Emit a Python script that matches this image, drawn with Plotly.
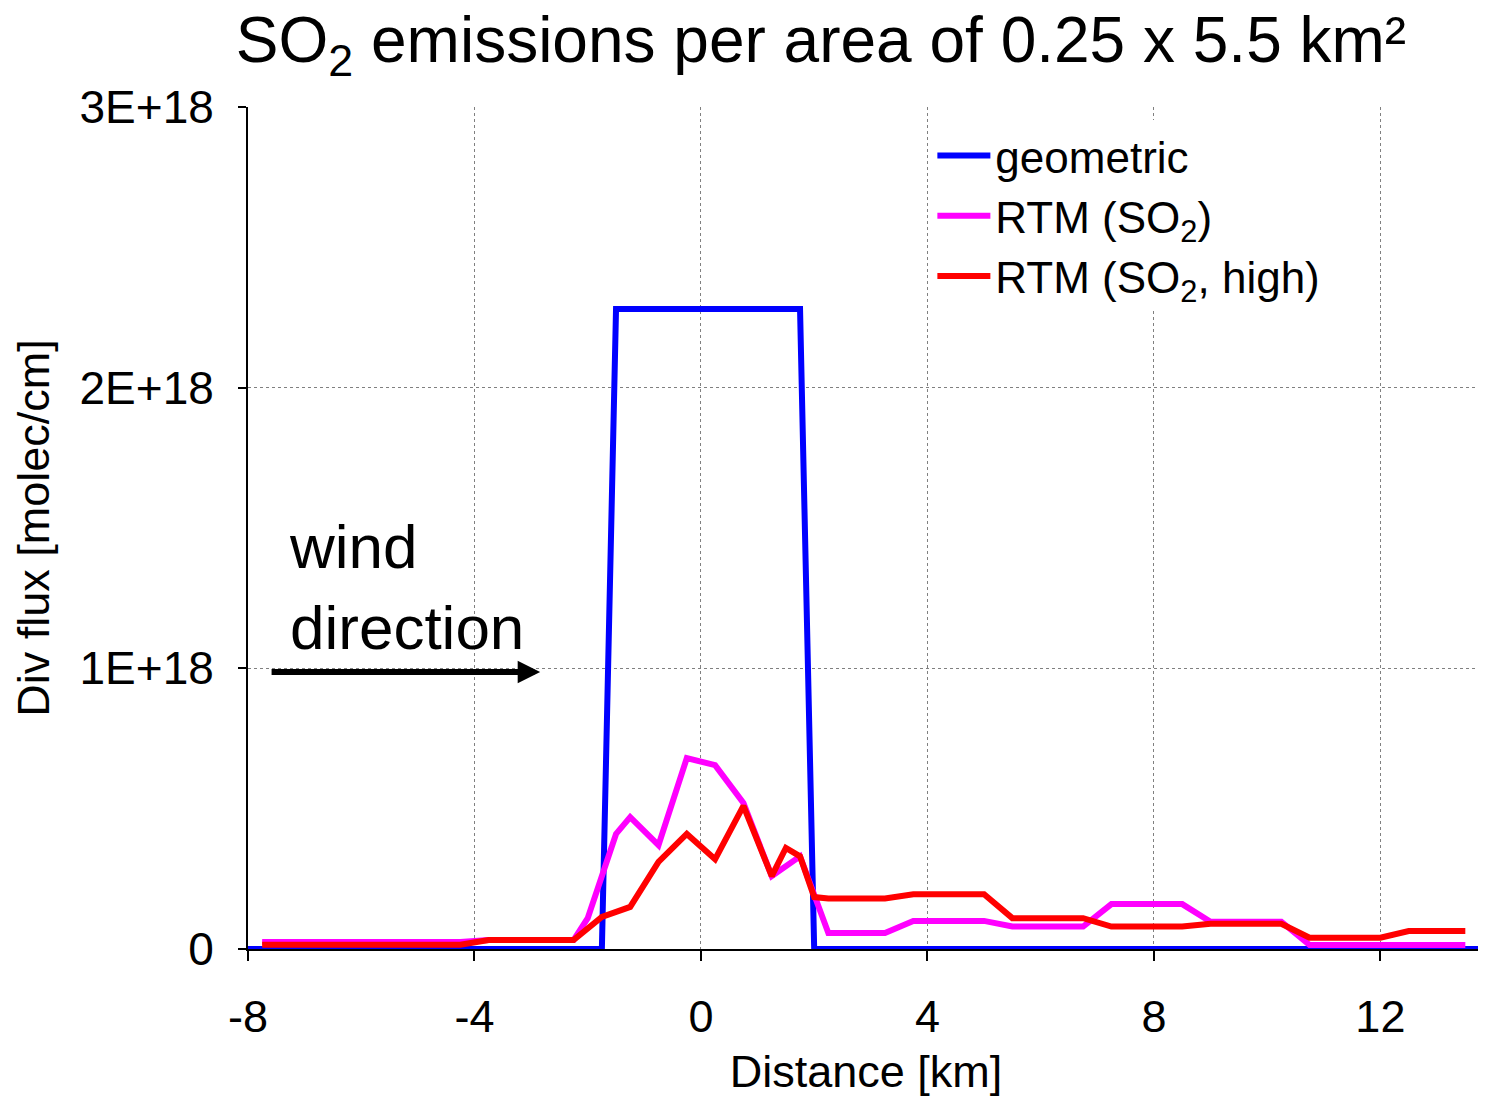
import plotly.graph_objects as go

# ---- data ----
geo_x = [-8, -1.75, -1.5, 1.75, 2.0, 13.75]
geo_y = [0, 0, 2.28e18, 2.28e18, 0, 0]

rtm_x = [-7.75, -4.25, -3.75, -2.25, -2.0, -1.75, -1.5, -1.25, -0.75, -0.25, 0.25, 0.75, 1.25, 1.75, 2.25,
         3.25, 3.75, 5.0, 5.5, 6.75, 7.25, 8.5, 9.0, 10.25, 10.75, 13.5]
rtm_y = [0.025e18, 0.025e18, 0.032e18, 0.032e18, 0.11e18, 0.26e18, 0.41e18, 0.47e18, 0.37e18, 0.68e18,
         0.655e18, 0.52e18, 0.26e18, 0.33e18, 0.057e18,
         0.057e18, 0.10e18, 0.10e18, 0.08e18, 0.08e18, 0.16e18, 0.16e18, 0.097e18, 0.097e18, 0.014e18, 0.014e18]

high_x = [-7.75, -4.25, -3.75, -2.25, -1.75, -1.25, -0.75, -0.25, 0.25, 0.75, 1.25, 1.5, 1.75, 2.0, 2.25,
          3.25, 3.75, 5.0, 5.5, 6.75, 7.25, 8.5, 9.0, 10.25, 10.75, 12.0, 12.5, 13.5]
high_y = [0.015e18, 0.015e18, 0.032e18, 0.032e18, 0.114e18, 0.15e18, 0.31e18, 0.41e18, 0.32e18, 0.51e18,
          0.26e18, 0.36e18, 0.33e18, 0.185e18, 0.18e18,
          0.18e18, 0.195e18, 0.195e18, 0.11e18, 0.11e18, 0.08e18, 0.08e18, 0.09e18, 0.09e18, 0.04e18,
          0.04e18, 0.064e18, 0.064e18]

x_ticks = [-8, -4, 0, 4, 8, 12]
y_ticks = [0, 1e18, 2e18, 3e18]
y_ticktext = ["0", "1E+18", "2E+18", "3E+18"]

FONT = "Arial, Liberation Sans, sans-serif"
W, H = 1478, 1089  # page body has an 8px margin

fig = go.Figure()
fig.add_trace(go.Scatter(x=geo_x, y=geo_y, mode="lines", name="geometric",
                         line=dict(color="#0000FF", width=6)))
fig.add_trace(go.Scatter(x=rtm_x, y=rtm_y, mode="lines", name="RTM (SO<sub>2</sub>)",
                         line=dict(color="#FF00FF", width=6)))
fig.add_trace(go.Scatter(x=high_x, y=high_y, mode="lines", name="RTM (SO<sub>2</sub>, high)",
                         line=dict(color="#FF0000", width=6)))

fig.update_layout(
    width=W, height=H,
    margin=dict(l=240, r=2, t=99, b=148, autoexpand=False),
    paper_bgcolor="white", plot_bgcolor="white",
    font=dict(family=FONT, color="black", size=44),
    title=dict(text="SO<sub>2</sub> emissions per area of 0.25 x 5.5 km²",
               x=813/W, xanchor="center", xref="container",
               y=1-32/H, yanchor="middle", yref="container",
               font=dict(size=64, family=FONT, color="black")),
    legend=dict(x=0.5537, y=0.984, xanchor="left", yanchor="top",
                bgcolor="white", borderwidth=0, font=dict(size=44, family=FONT),
                itemwidth=53, tracegroupgap=0),
    showlegend=True,
)

fig.update_xaxes(range=[-8, 13.83], tickvals=x_ticks, ticktext=[str(v) for v in x_ticks],
                 showline=True, linecolor="black", linewidth=2, automargin=False,
                 ticks="outside", ticklen=10, tickcolor="black", tickwidth=2,
                 showgrid=True, gridcolor="#808080", gridwidth=1, griddash="dot",
                 zeroline=False, ticklabelstandoff=17,
                 title=dict(text="Distance [km]", font=dict(size=45), standoff=27),
                 tickfont=dict(size=45))
fig.update_yaxes(range=[0, 3e18], tickvals=y_ticks, ticktext=y_ticktext,
                 showline=True, linecolor="black", linewidth=2, automargin=False,
                 ticks="outside", ticklen=8, tickcolor="black", tickwidth=2,
                 showgrid=True, gridcolor="#808080", gridwidth=1, griddash="dot",
                 zeroline=False, ticklabelstandoff=15,
                 title=dict(text="Div flux [molec/cm]", font=dict(size=45), standoff=20),
                 tickfont=dict(size=46))

# wind direction annotation with arrow
fig.add_annotation(x=-2.84, y=0.987e18, ax=-7.61, ay=0.987e18, axref="x", ayref="y",
                   xref="x", yref="y", showarrow=True, arrowhead=2, arrowsize=0.75,
                   arrowwidth=6, arrowcolor="black", text="")
fig.add_annotation(x=-7.31, y=1.29e18, xref="x", yref="y", xanchor="left", yanchor="middle",
                   align="left", showarrow=False, text="wind<br>direction",
                   font=dict(size=62, family=FONT, color="black"))

fig.write_html("out.html")
